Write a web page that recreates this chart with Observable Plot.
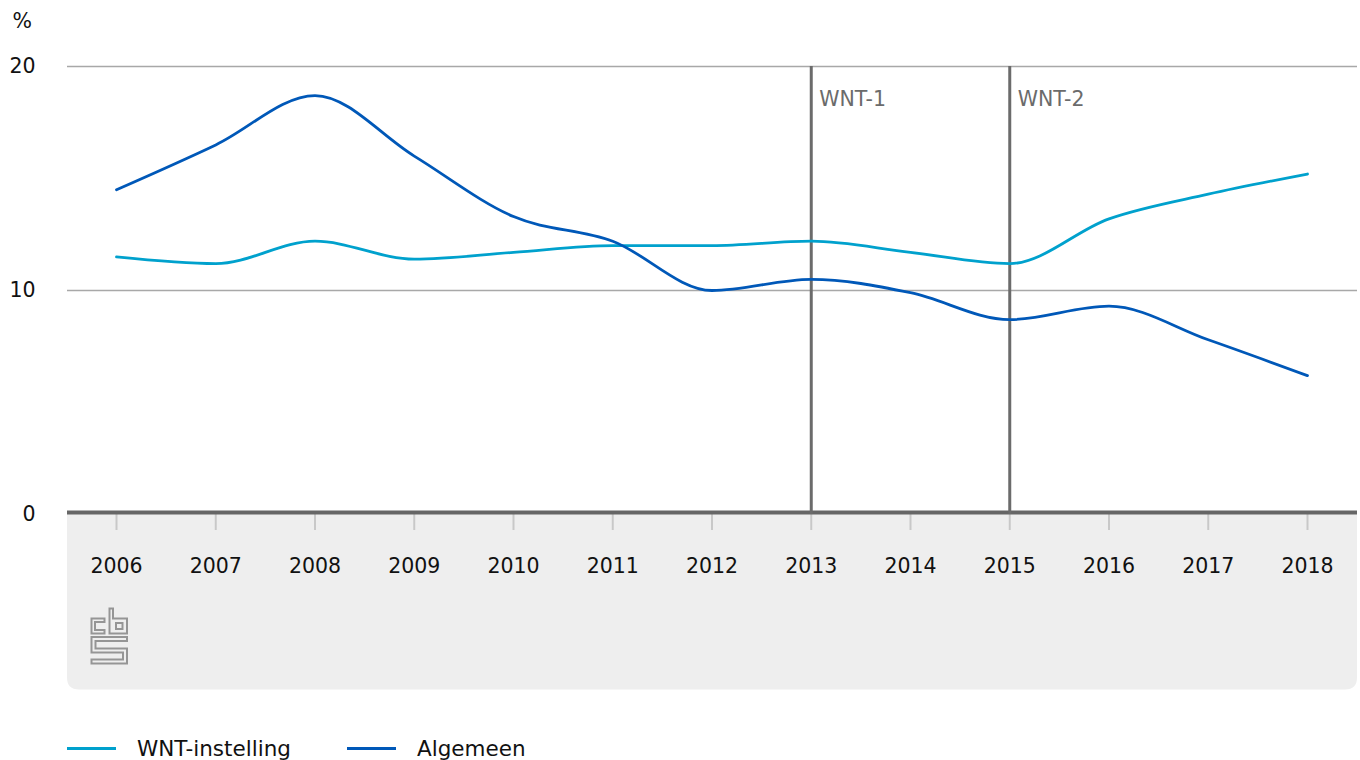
<!DOCTYPE html>
<html><head><meta charset="utf-8">
<script src="https://cdn.jsdelivr.net/npm/d3@7"></script>
<script src="https://cdn.jsdelivr.net/npm/@observablehq/plot@0.6"></script>
<style>
html,body{margin:0;padding:0;background:#fff;}
body{width:1360px;height:760px;overflow:hidden;font-family:"DejaVu Sans",sans-serif;}
#chart svg{display:block}
#legend{position:relative;height:60px;}
.item{position:absolute;top:36px;display:flex;align-items:center;font-size:21.5px;color:#111;height:24px;white-space:nowrap}
.sw{width:49px;height:3px;margin-right:21px}
</style></head><body>
<div id="chart"></div>
<div id="legend"></div>
<script>
const years = [2006, 2007, 2008, 2009, 2010, 2011, 2012, 2013, 2014, 2015, 2016, 2017, 2018];
const wntInstelling = [11.5, 11.2, 12.2, 11.4, 11.7, 12.0, 12.0, 12.2, 11.7, 11.2, 13.2, 14.3, 15.2];
const algemeen = [14.5, 16.5, 18.7, 16.0, 13.3, 12.2, 10.0, 10.5, 9.9, 8.7, 9.3, 7.8, 6.2];
const seriesNames = ["WNT-instelling", "Algemeen"];
const seriesColors = ["#00a1cd", "#0058b8"];
const wntYears = [2013, 2015];
const wntLabels = ["WNT-1", "WNT-2"];
const yTicks = [0, 10, 20];
const unitLabel = "%";

(function () {
const FONT = '"DejaVu Sans", sans-serif';
const FS = 20.5;
const W = 1360, H = 700, mL = 67, mR = 3, mT = 66, mB = 186;

const data = [];
years.forEach((yr, i) => {
  data.push({year: yr, value: wntInstelling[i], series: seriesNames[0]});
  data.push({year: yr, value: algemeen[i], series: seriesNames[1]});
});
const markers = wntYears.map((y, i) => ({year: y, label: wntLabels[i]}));

const plot = Plot.plot({
  width: W, height: H,
  marginTop: mT, marginBottom: mB, marginLeft: mL, marginRight: mR,
  style: {fontFamily: FONT, fontSize: FS + "px", background: "transparent", overflow: "visible"},
  x: {domain: [2006, 2018], insetLeft: 49, insetRight: 50, label: null},
  y: {domain: [0, 20], label: null},
  color: {domain: seriesNames, range: seriesColors},
  marks: [
    Plot.ruleY([10, 20], {stroke: "#a8a8a8", strokeWidth: 1.5}),
    Plot.axisX(years, {tickSize: 16, tickFormat: () => "", stroke: "#c8c8c8", strokeWidth: 2, label: null}),
    Plot.axisX(years, {tickSize: 0, tickPadding: 44, tickFormat: d => String(d), fill: "#111", fontSize: FS, label: null}),
    Plot.axisY(yTicks, {tickSize: 0, tickPadding: 32, tickFormat: d => String(d), fill: "#111", fontSize: FS, label: null, dy: 0}),
    Plot.ruleY([0], {stroke: "#666", strokeWidth: 4, dy: -2}),
    Plot.ruleX(markers, {x: "year", y1: 0, y2: 20, stroke: "#6b6b6b", strokeWidth: 3}),
    Plot.text(markers, {x: "year", y: 20, text: "label", textAnchor: "start", lineAnchor: "middle", dx: 8, dy: 33, fill: "#6b6b6b", fontSize: FS}),
    Plot.line(data, {x: "year", y: "value", z: "series", stroke: "series", curve: "monotone-x", strokeWidth: 2.8}),
    Plot.text([unitLabel], {frameAnchor: "top-left", text: d => d, dx: -55, dy: -45, textAnchor: "start", lineAnchor: "middle", fill: "#111", fontSize: FS})
  ]
});

// grey panel below the axis, with rounded bottom corners
const y0 = plot.scale("y").apply(0);
const pL = mL, pR = W - mR, pT = y0, pB = y0 + 175.5, r = 12;
const svgSel = d3.select(plot);
const panel = d3.create("svg:path")
  .attr("d", `M${pL},${pT}H${pR}V${pB - r}Q${pR},${pB} ${pR - r},${pB}H${pL + r}Q${pL},${pB} ${pL},${pB - r}Z`)
  .attr("fill", "#eeeeee");
plot.insertBefore(panel.node(), plot.firstChild);

// CBS logo (outline)
const logo = svgSel.append("g")
  .attr("transform", `translate(${pL + 24.5},${pT + 94.5})`)
  .attr("fill", "none").attr("stroke", "#959595").attr("stroke-width", 2).attr("stroke-linejoin", "miter");
logo.append("path").attr("d", "M0,10H13V13.5H3.5V21.5H13V25H0Z");
logo.append("path").attr("d", "M18,0H21.5V10H35.5V25H18Z");
logo.append("path").attr("d", "M24.5,14.5H31V20.5H24.5Z");
logo.append("path").attr("d", "M0,28.5H35.5V32.5H4V40H35.5V55H0V51H31.5V44H0Z");

document.getElementById("chart").appendChild(plot);

// legend
const legend = d3.select("#legend");
const lefts = [67, 347];
seriesNames.forEach((name, i) => {
  const item = legend.append("div").attr("class", "item").style("left", lefts[i] + "px");
  item.append("div").attr("class", "sw").style("background", seriesColors[i]);
  item.append("span").text(name);
});
})();
</script>
</body></html>
